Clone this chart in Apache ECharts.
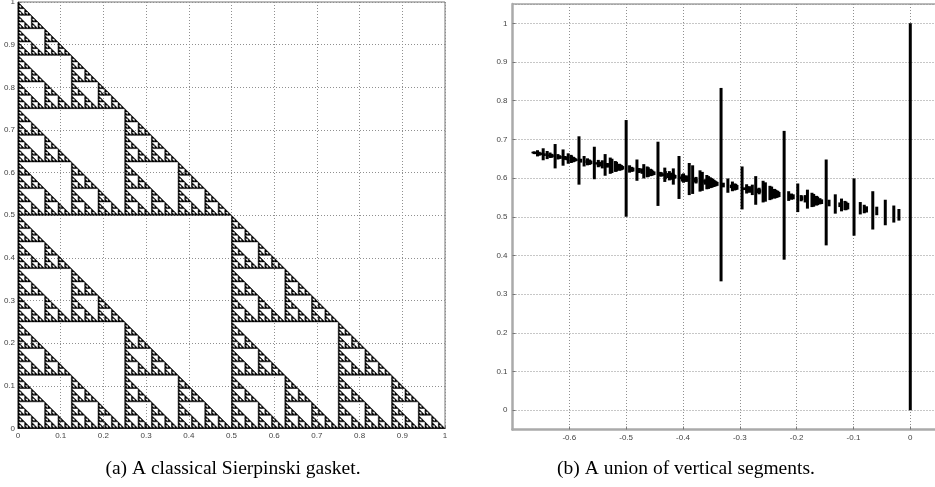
<!DOCTYPE html>
<html>
<head>
<meta charset="utf-8">
<title>Sierpinski gasket / vertical segments</title>
<style>
  html, body { margin: 0; padding: 0; background: #fff; }
  #chart { width: 935px; height: 487px; }
</style>
<script src="https://cdn.jsdelivr.net/npm/echarts@6/dist/echarts.min.js"></script>
</head>
<body>
<div id="chart"></div>
<script>
// (a) gasket: outer triangle, subdivided to the depth the figure shows
const gasketCorners = [[0, 0], [1, 0], [0, 1]]
const gasketDepth = 7

// (b) vertical segments, [x, yLow, yHigh]
const bigSegments = [
  [0, 0, 1],
  [-0.333, 0.333, 0.833],
  [-0.5, 0.5, 0.75],
  [-0.222, 0.389, 0.722],
  [-0.583, 0.583, 0.708],
  [-0.444, 0.528, 0.694],
  [-0.148, 0.426, 0.648],
  [-0.625, 0.625, 0.688],
  [-0.389, 0.556, 0.639],
  [-0.556, 0.597, 0.681],
  [-0.296, 0.519, 0.630],
  [-0.407, 0.546, 0.657],
  [-0.099, 0.451, 0.599]
]
const midSegments = [
  [-0.646, 0.646, 0.677], [-0.417, 0.583, 0.625], [-0.528, 0.611, 0.653],
  [-0.259, 0.537, 0.593], [-0.611, 0.632, 0.674], [-0.370, 0.565, 0.620],
  [-0.481, 0.593, 0.648], [-0.198, 0.512, 0.586], [-0.537, 0.606, 0.662],
  [-0.272, 0.531, 0.605], [-0.383, 0.559, 0.633], [-0.066, 0.467, 0.566],
  [-0.656, 0.656, 0.672], [-0.431, 0.597, 0.618], [-0.542, 0.625, 0.646],
  [-0.278, 0.556, 0.583], [-0.597, 0.639, 0.660], [-0.352, 0.574, 0.602],
  [-0.463, 0.602, 0.630], [-0.173, 0.525, 0.562], [-0.639, 0.649, 0.670],
  [-0.519, 0.616, 0.644], [-0.247, 0.543, 0.580], [-0.574, 0.630, 0.657],
  [-0.321, 0.562, 0.599], [-0.432, 0.590, 0.627], [-0.132, 0.508, 0.558],
  [-0.602, 0.637, 0.664], [-0.358, 0.571, 0.608], [-0.469, 0.599, 0.636],
  [-0.181, 0.521, 0.570], [-0.525, 0.613, 0.650], [-0.255, 0.539, 0.589],
  [-0.366, 0.567, 0.616], [-0.044, 0.478, 0.544]
]
const smallSegments = [
  [-0.662, 0.662, 0.669], [-0.438, 0.604, 0.615], [-0.549, 0.632, 0.642],
  [-0.287, 0.565, 0.579], [-0.604, 0.646, 0.656], [-0.361, 0.583, 0.597],
  [-0.472, 0.611, 0.625], [-0.185, 0.537, 0.556], [-0.632, 0.653, 0.663],
  [-0.398, 0.593, 0.607], [-0.509, 0.620, 0.634], [-0.235, 0.549, 0.568],
  [-0.565, 0.634, 0.648], [-0.309, 0.568, 0.586], [-0.420, 0.596, 0.614],
  [-0.115, 0.517, 0.541], [-0.653, 0.658, 0.668], [-0.426, 0.600, 0.613],
  [-0.593, 0.641, 0.655], [-0.346, 0.577, 0.596], [-0.457, 0.605, 0.624],
  [-0.165, 0.529, 0.554], [-0.620, 0.648, 0.662], [-0.494, 0.614, 0.633],
  [-0.214, 0.541, 0.566], [-0.549, 0.628, 0.647], [-0.288, 0.560, 0.584],
  [-0.399, 0.588, 0.612], [-0.088, 0.506, 0.538], [-0.634, 0.652, 0.666],
  [-0.401, 0.591, 0.610], [-0.512, 0.619, 0.637], [-0.239, 0.547, 0.572],
  [-0.568, 0.633, 0.651], [-0.313, 0.566, 0.591], [-0.424, 0.594, 0.618],
  [-0.121, 0.514, 0.547], [-0.596, 0.640, 0.658], [-0.350, 0.575, 0.600],
  [-0.461, 0.603, 0.628], [-0.170, 0.526, 0.559], [-0.517, 0.617, 0.642],
  [-0.244, 0.545, 0.578], [-0.355, 0.572, 0.605], [-0.029, 0.485, 0.529],
  [-0.020, 0.490, 0.520]
]
// the finest spikes that thicken the band
const tinySegments = [
  [-0.664, 0.664, 0.668], [-0.441, 0.608, 0.613], [-0.552, 0.635, 0.641], [-0.292, 0.569, 0.576],
  [-0.608, 0.649, 0.655], [-0.366, 0.588, 0.595], [-0.477, 0.616, 0.623], [-0.191, 0.543, 0.553],
  [-0.635, 0.656, 0.661], [-0.403, 0.597, 0.604], [-0.514, 0.625, 0.632], [-0.241, 0.556, 0.565],
  [-0.569, 0.639, 0.646], [-0.315, 0.574, 0.583], [-0.426, 0.602, 0.611], [-0.124, 0.525, 0.537],
  [-0.649, 0.660, 0.665], [-0.421, 0.602, 0.609], [-0.532, 0.630, 0.637], [-0.265, 0.562, 0.571],
  [-0.588, 0.644, 0.650], [-0.340, 0.580, 0.590], [-0.451, 0.608, 0.617], [-0.156, 0.533, 0.545],
  [-0.616, 0.650, 0.657], [-0.377, 0.589, 0.599], [-0.488, 0.617, 0.627], [-0.206, 0.545, 0.558],
  [-0.543, 0.631, 0.640], [-0.280, 0.564, 0.576], [-0.391, 0.592, 0.604], [-0.077, 0.511, 0.527],
  [-0.660, 0.662, 0.668], [-0.435, 0.605, 0.612], [-0.546, 0.633, 0.640], [-0.284, 0.566, 0.576],
  [-0.630, 0.654, 0.661], [-0.395, 0.594, 0.603], [-0.506, 0.622, 0.631], [-0.231, 0.551, 0.564],
  [-0.562, 0.636, 0.645], [-0.305, 0.570, 0.582], [-0.416, 0.598, 0.610], [-0.110, 0.519, 0.536],
  [-0.644, 0.657, 0.664], [-0.414, 0.599, 0.608], [-0.580, 0.640, 0.650], [-0.329, 0.576, 0.588],
  [-0.440, 0.604, 0.616], [-0.143, 0.527, 0.544], [-0.608, 0.647, 0.657], [-0.477, 0.613, 0.626],
  [-0.192, 0.540, 0.556], [-0.533, 0.627, 0.639], [-0.266, 0.558, 0.575], [-0.377, 0.586, 0.603],
  [-0.059, 0.504, 0.526], [-0.651, 0.659, 0.666], [-0.423, 0.601, 0.610], [-0.534, 0.629, 0.638],
  [-0.268, 0.561, 0.573], [-0.590, 0.643, 0.652], [-0.342, 0.579, 0.592], [-0.453, 0.607, 0.619],
  [-0.159, 0.532, 0.548], [-0.617, 0.650, 0.659], [-0.379, 0.589, 0.601], [-0.490, 0.616, 0.629],
  [-0.209, 0.544, 0.560], [-0.545, 0.630, 0.642], [-0.283, 0.562, 0.579], [-0.394, 0.590, 0.607],
  [-0.081, 0.509, 0.531], [-0.631, 0.653, 0.662], [-0.397, 0.593, 0.605], [-0.508, 0.621, 0.633],
  [-0.233, 0.550, 0.567], [-0.564, 0.635, 0.647], [-0.307, 0.569, 0.585], [-0.418, 0.596, 0.613],
  [-0.113, 0.517, 0.539], [-0.592, 0.642, 0.654], [-0.344, 0.578, 0.594], [-0.455, 0.606, 0.622],
  [-0.163, 0.530, 0.552], [-0.511, 0.620, 0.636], [-0.237, 0.548, 0.570], [-0.348, 0.576, 0.598]
]

const captionA = '(a) A classical Sierpinski gasket.'
const captionB = '(b) A union of vertical segments.'

function subdivide(tri, depth, out)
{
  if (depth === 0) {
    out.push([tri[0][0], tri[0][1], tri[1][0], tri[1][1], tri[2][0], tri[2][1]])
    return
  }
  const mid = (p, q) => [(p[0] + q[0]) / 2, (p[1] + q[1]) / 2]
  const ab = mid(tri[0], tri[1])
  const ac = mid(tri[0], tri[2])
  const bc = mid(tri[1], tri[2])
  subdivide([tri[0], ab, ac], depth - 1, out)
  subdivide([ab, tri[1], bc], depth - 1, out)
  subdivide([ac, bc, tri[2]], depth - 1, out)
}
const gasketTriangles = []
subdivide(gasketCorners, gasketDepth, gasketTriangles)

const labelStyle = { fontSize: 8, color: '#444', fontFamily: 'Liberation Sans' }
const gridLine = { show: true, lineStyle: { color: '#8f8f8f', width: 1, type: [1, 2] } }
const tick = { show: true, inside: true, length: 3, lineStyle: { color: '#777' } }

const option = {
  animation: false,
  backgroundColor: '#fff',
  grid: [
    { left: 18, top: 2, width: 427, height: 426.5, show: true, borderColor: '#777', borderWidth: 1, outerBoundsMode: 'none' },
    { left: 512.5, top: 4, width: 426.2, height: 425.5, show: true, borderColor: '#777', borderWidth: 1, outerBoundsMode: 'none' }
  ],
  xAxis: [
    {
      gridIndex: 0, type: 'value', min: 0, max: 1, interval: 0.1,
      axisLine: { show: true, onZero: false, lineStyle: { color: '#777' } },
      axisTick: tick,
      axisLabel: Object.assign({ margin: 3 }, labelStyle),
      splitLine: gridLine
    },
    {
      gridIndex: 1, type: 'value', min: -0.7, max: 0.05, splitNumber: 8, minInterval: 0.1, maxInterval: 0.1,
      axisLine: { show: true, onZero: false, lineStyle: { color: '#aaa', width: 2.5 } },
      axisTick: tick,
      axisLabel: Object.assign({ margin: 4, showMinLabel: false, showMaxLabel: false }, labelStyle),
      splitLine: gridLine
    }
  ],
  yAxis: [
    {
      gridIndex: 0, type: 'value', min: 0, max: 1, interval: 0.1,
      axisLine: { show: true, onZero: false, lineStyle: { color: '#777' } },
      axisTick: tick,
      axisLabel: Object.assign({ margin: 3 }, labelStyle),
      splitLine: gridLine
    },
    {
      gridIndex: 1, type: 'value', min: -0.05, max: 1.05, splitNumber: 11, minInterval: 0.1, maxInterval: 0.1,
      axisLine: { show: true, onZero: false, lineStyle: { color: '#aaa', width: 2.5 } },
      axisTick: tick,
      axisLabel: Object.assign({ margin: 5, showMinLabel: false, showMaxLabel: false }, labelStyle),
      splitLine: gridLine
    }
  ],
  graphic: [
    { type: 'text', x: 233, y: 469, style: { text: captionA, align: 'center', verticalAlign: 'middle', font: '19.5px "Liberation Serif"', fill: '#000' } },
    { type: 'text', x: 686, y: 469, style: { text: captionB, align: 'center', verticalAlign: 'middle', font: '19.5px "Liberation Serif"', fill: '#000' } }
  ],
  series: [
    {
      type: 'custom',
      xAxisIndex: 0,
      yAxisIndex: 0,
      silent: true,
      data: gasketTriangles,
      renderItem: (params, api) =>
      {
        const pts = [0, 1, 2].map(k => api.coord([api.value(2 * k), api.value(2 * k + 1)]))
        return {
          type: 'polygon',
          shape: { points: pts },
          style: { fill: '#000', stroke: '#000', lineWidth: 0.5 }
        }
      }
    },
    {
      type: 'custom',
      xAxisIndex: 1,
      yAxisIndex: 1,
      silent: true,
      data: bigSegments.concat(midSegments, smallSegments, tinySegments),
      renderItem: (params, api) =>
      {
        const a = api.coord([api.value(0), api.value(1)])
        const b = api.coord([api.value(0), api.value(2)])
        return {
          type: 'line',
          shape: { x1: a[0], y1: a[1], x2: b[0], y2: b[1] },
          style: { stroke: '#000', lineWidth: 3 }
        }
      }
    }
  ]
}

const chart = echarts.init(document.getElementById('chart'))
chart.setOption(option)
</script>
</body>
</html>
